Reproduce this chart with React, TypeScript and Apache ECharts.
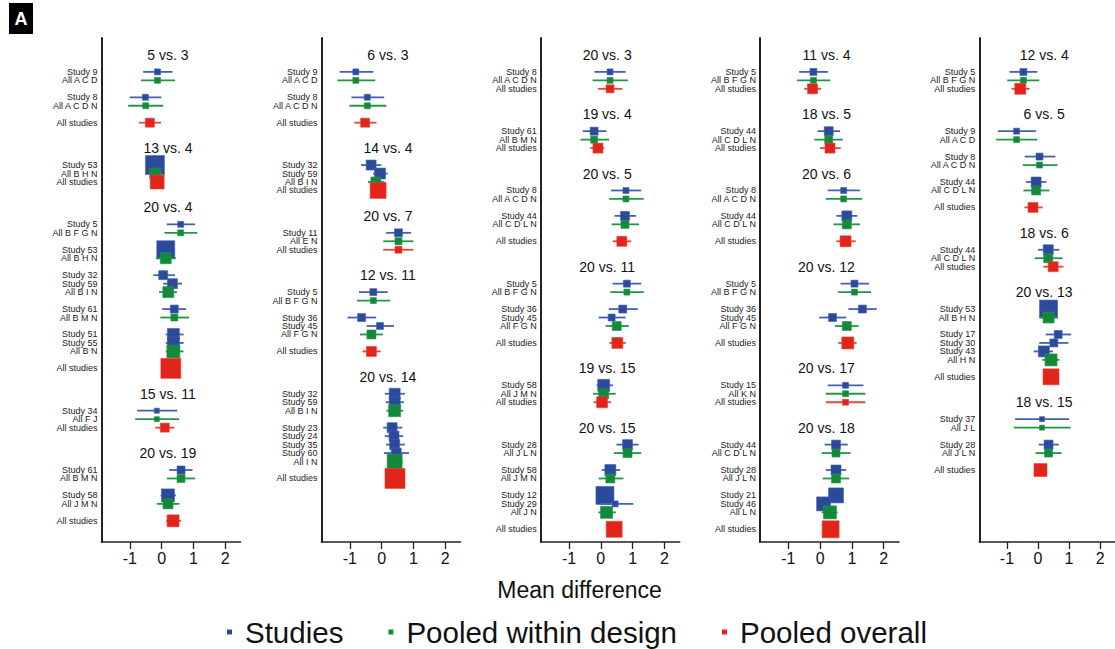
import { useEffect, useRef } from 'react';
import * as echarts from 'echarts';

type Row = [string, number, number, number, number]; // label, estimate, lower, upper, square size
type Comparison = { title: string; rows: Row[] };

const panel1: Comparison[] = [
  { title: '5 vs. 3', rows: [
    ['Study 9', -0.13, -0.58, 0.34, 6], ['All A C D', -0.13, -0.65, 0.42, 6],
    ['Study 8', -0.51, -1.0, -0.01, 6], ['All A C D N', -0.5, -1.05, 0.05, 6],
    ['All studies', -0.37, -0.71, -0.02, 9]] },
  { title: '13 vs. 4', rows: [
    ['Study 53', -0.21, -0.4, 0.0, 19], ['All B H N', -0.2, -0.4, 0.0, 11],
    ['All studies', -0.14, -0.35, 0.05, 14]] },
  { title: '20 vs. 4', rows: [
    ['Study 5', 0.6, 0.16, 1.05, 6], ['All B F G N', 0.6, 0.09, 1.12, 6],
    ['Study 53', 0.13, -0.05, 0.3, 18], ['All B H N', 0.13, -0.18, 0.45, 11],
    ['Study 32', 0.05, -0.26, 0.42, 9], ['Study 59', 0.34, 0.05, 0.64, 10], ['All B I N', 0.21, -0.08, 0.48, 11],
    ['Study 61', 0.4, 0.02, 0.77, 8], ['All B M N', 0.4, -0.04, 0.86, 7],
    ['Study 51', 0.37, 0.13, 0.69, 12], ['Study 55', 0.37, 0.13, 0.69, 12], ['All B N', 0.37, 0.13, 0.69, 13],
    ['All studies', 0.29, 0.05, 0.5, 20]] },
  { title: '15 vs. 11', rows: [
    ['Study 34', -0.15, -0.77, 0.49, 5], ['All F J', -0.15, -0.83, 0.55, 5],
    ['All studies', 0.1, -0.2, 0.4, 9]] },
  { title: '20 vs. 19', rows: [
    ['Study 61', 0.61, 0.24, 0.97, 8], ['All B M N', 0.61, 0.17, 1.05, 8],
    ['Study 58', 0.2, -0.03, 0.45, 13], ['All J M N', 0.2, -0.15, 0.56, 10],
    ['All studies', 0.36, 0.14, 0.61, 12]] },
];

const panel2: Comparison[] = [
  { title: '6 vs. 3', rows: [
    ['Study 9', -0.81, -1.32, -0.26, 6], ['All A C D', -0.81, -1.39, -0.2, 6],
    ['Study 8', -0.45, -0.95, 0.08, 6], ['All A C D N', -0.45, -1.01, 0.15, 6],
    ['All studies', -0.52, -0.86, -0.16, 9]] },
  { title: '14 vs. 4', rows: [
    ['Study 32', -0.33, -0.65, -0.01, 10], ['Study 59', -0.05, -0.27, 0.19, 11],
    ['All B I N', -0.18, -0.43, 0.09, 10], ['All studies', -0.11, -0.3, 0.1, 16]] },
  { title: '20 vs. 7', rows: [
    ['Study 11', 0.53, 0.14, 0.93, 8], ['All E N', 0.53, 0.05, 1.0, 7],
    ['All studies', 0.53, 0.05, 1.0, 7]] },
  { title: '12 vs. 11', rows: [
    ['Study 5', -0.26, -0.71, 0.19, 7], ['All B F G N', -0.26, -0.77, 0.27, 6],
    ['Study 36', -0.63, -1.07, -0.17, 8], ['Study 45', -0.05, -0.47, 0.39, 7], ['All F G N', -0.32, -0.68, 0.04, 9],
    ['All studies', -0.32, -0.6, -0.03, 10]] },
  { title: '20 vs. 14', rows: [
    ['Study 32', 0.41, 0.1, 0.73, 11], ['Study 59', 0.41, 0.13, 0.7, 11], ['All B I N', 0.41, 0.15, 0.68, 12],
    ['Study 23', 0.33, 0.05, 0.65, 10], ['Study 24', 0.39, 0.1, 0.68, 10], ['Study 35', 0.41, 0.14, 0.73, 10],
    ['Study 60', 0.46, 0.07, 0.86, 10], ['All I N', 0.41, 0.17, 0.66, 15],
    ['All studies', 0.42, 0.2, 0.64, 20]] },
];

const panel3: Comparison[] = [
  { title: '20 vs. 3', rows: [
    ['Study 8', 0.29, -0.2, 0.78, 6], ['All A C D N', 0.29, -0.26, 0.86, 6],
    ['All studies', 0.29, -0.09, 0.68, 8]] },
  { title: '19 vs. 4', rows: [
    ['Study 61', -0.21, -0.57, 0.18, 8], ['All B M N', -0.21, -0.64, 0.26, 7],
    ['All studies', -0.09, -0.33, 0.11, 10]] },
  { title: '20 vs. 5', rows: [
    ['Study 8', 0.79, 0.32, 1.27, 6], ['All A C D N', 0.79, 0.26, 1.35, 6],
    ['Study 44', 0.76, 0.43, 1.11, 9], ['All C D L N', 0.76, 0.34, 1.2, 8],
    ['All studies', 0.66, 0.37, 0.96, 10]] },
  { title: '20 vs. 11', rows: [
    ['Study 5', 0.82, 0.37, 1.27, 7], ['All B F G N', 0.82, 0.3, 1.35, 6],
    ['Study 36', 0.69, 0.25, 1.16, 8], ['Study 45', 0.34, -0.07, 0.78, 7], ['All F G N', 0.5, 0.15, 0.88, 9],
    ['All studies', 0.52, 0.27, 0.78, 11]] },
  { title: '19 vs. 15', rows: [
    ['Study 58', 0.09, -0.13, 0.38, 12], ['All J M N', 0.09, -0.25, 0.47, 10],
    ['All studies', 0.04, -0.23, 0.32, 11]] },
  { title: '20 vs. 15', rows: [
    ['Study 28', 0.84, 0.49, 1.19, 10], ['All J L N', 0.84, 0.41, 1.27, 9],
    ['Study 58', 0.3, 0.03, 0.61, 11], ['All J M N', 0.3, -0.07, 0.71, 9],
    ['Study 12', 0.13, -0.05, 0.3, 18], ['Study 29', 0.45, -0.02, 1.02, 6], ['All J N', 0.18, -0.08, 0.47, 12],
    ['All studies', 0.42, 0.2, 0.62, 16]] },
];

const panel4: Comparison[] = [
  { title: '11 vs. 4', rows: [
    ['Study 5', -0.21, -0.66, 0.25, 7], ['All B F G N', -0.21, -0.73, 0.32, 6],
    ['All studies', -0.24, -0.5, 0.03, 10]] },
  { title: '18 vs. 5', rows: [
    ['Study 44', 0.27, -0.08, 0.63, 9], ['All C D L N', 0.27, -0.18, 0.71, 8],
    ['All studies', 0.31, 0.0, 0.65, 10]] },
  { title: '20 vs. 6', rows: [
    ['Study 8', 0.74, 0.24, 1.25, 6], ['All A C D N', 0.74, 0.18, 1.32, 6],
    ['Study 44', 0.84, 0.51, 1.17, 10], ['All C D L N', 0.84, 0.42, 1.25, 9],
    ['All studies', 0.8, 0.51, 1.12, 11]] },
  { title: '20 vs. 12', rows: [
    ['Study 5', 1.08, 0.64, 1.54, 7], ['All B F G N', 1.08, 0.57, 1.6, 6],
    ['Study 36', 1.33, 0.89, 1.78, 8], ['Study 45', 0.39, -0.03, 0.82, 8], ['All F G N', 0.84, 0.47, 1.21, 9],
    ['All studies', 0.87, 0.57, 1.15, 12]] },
  { title: '20 vs. 17', rows: [
    ['Study 15', 0.8, 0.24, 1.36, 6], ['All K N', 0.8, 0.18, 1.42, 6],
    ['All studies', 0.8, 0.18, 1.42, 6]] },
  { title: '20 vs. 18', rows: [
    ['Study 44', 0.5, 0.14, 0.87, 9], ['All C D L N', 0.5, 0.05, 0.96, 8],
    ['Study 28', 0.5, 0.18, 0.82, 10], ['All J L N', 0.5, 0.08, 0.91, 9],
    ['Study 21', 0.5, 0.3, 0.7, 15], ['Study 46', 0.11, -0.08, 0.3, 14], ['All L N', 0.31, 0.05, 0.55, 13],
    ['All studies', 0.33, 0.12, 0.55, 17]] },
];

const panel5: Comparison[] = [
  { title: '12 vs. 4', rows: [
    ['Study 5', -0.47, -0.92, -0.02, 7], ['All B F G N', -0.47, -0.99, 0.04, 6],
    ['All studies', -0.57, -0.85, -0.27, 11]] },
  { title: '6 vs. 5', rows: [
    ['Study 9', -0.69, -1.29, -0.07, 6], ['All A C D', -0.69, -1.35, -0.02, 6],
    ['Study 8', 0.05, -0.43, 0.56, 7], ['All A C D N', 0.05, -0.49, 0.63, 6],
    ['Study 44', -0.06, -0.39, 0.27, 10], ['All C D L N', -0.06, -0.47, 0.37, 9],
    ['All studies', -0.16, -0.44, 0.15, 10]] },
  { title: '18 vs. 6', rows: [
    ['Study 44', 0.33, 0.0, 0.69, 10], ['All C D L N', 0.33, -0.11, 0.79, 9],
    ['All studies', 0.49, 0.17, 0.82, 10]] },
  { title: '20 vs. 13', rows: [
    ['Study 53', 0.34, 0.15, 0.52, 18], ['All B H N', 0.34, 0.06, 0.63, 11],
    ['Study 17', 0.65, 0.25, 1.07, 8], ['Study 30', 0.51, 0.04, 0.98, 8], ['Study 43', 0.19, -0.14, 0.48, 11],
    ['All H N', 0.42, 0.14, 0.69, 12], ['All studies', 0.42, 0.2, 0.64, 16]] },
  { title: '18 vs. 15', rows: [
    ['Study 37', 0.13, -0.74, 1.0, 5], ['All J L', 0.13, -0.78, 1.05, 5],
    ['Study 28', 0.34, 0.02, 0.67, 9], ['All J L N', 0.34, -0.08, 0.76, 8],
    ['All studies', 0.08, -0.12, 0.3, 13]] },
];

const panels = [panel1, panel2, panel3, panel4, panel5];
const xTicks = [-1, 0, 1, 2];
const legendNames = ['Studies', 'Pooled within design', 'Pooled overall'];

const X_MIN = -1.89;
const X_MAX = 2.48;
const Y_MIN = -4;
const Y_MAX = 55.5;
const GRID_LEFT = [101.5, 321.5, 540.7, 760, 979.3];
const FONT = "'Liberation Sans', Arial, sans-serif";

const isOverall = (l: string) => l === 'All studies';
const isDesign = (l: string) => l.startsWith('All') && !isOverall(l);
const isStudy = (l: string) => l.startsWith('Study');

const kinds = [
  { name: legendNames[0], color: '#2b4a9c', line: '#4361b2', test: isStudy },
  { name: legendNames[1], color: '#14893b', line: '#229547', test: isDesign },
  { name: legendNames[2], color: '#e1251b', line: '#e8453a', test: isOverall },
];

type Placed = { label: string; est: number; lo: number; hi: number; size: number; row: number };

function layout(panel: Comparison[]) {
  const titles: { text: string; row: number }[] = [];
  const rows: Placed[] = [];
  let r = -2;
  let lastOverall = -5;
  panel.forEach((comp, ci) => {
    if (ci > 0) r = lastOverall + 3;
    titles.push({ text: comp.title, row: r });
    r += 2;
    const nDesign = comp.rows.filter((x) => isDesign(x[0])).length;
    comp.rows.forEach((x) => {
      rows.push({ label: x[0], est: x[1], lo: x[2], hi: x[3], size: x[4], row: r });
      if (isOverall(x[0])) lastOverall = r;
      r += isDesign(x[0]) && nDesign > 1 ? 2 : 1;
    });
  });
  return { titles, rows };
}

export default function App() {
  const ref = useRef<HTMLDivElement>(null);
  useEffect(() => {
    if (!ref.current) return;
    const chart = echarts.init(ref.current, undefined, { renderer: 'svg' });
    const grid: any[] = [];
    const xAxis: any[] = [];
    const yAxis: any[] = [];
    const series: any[] = [];
    panels.forEach((panel, i) => {
      const { titles, rows } = layout(panel);
      grid.push({ left: GRID_LEFT[i], top: 38, width: 139, height: 504 });
      xAxis.push({
        gridIndex: i, type: 'value', min: X_MIN, max: X_MAX,
        axisLine: { show: true, onZero: false, lineStyle: { color: '#222', width: 1.6 } },
        axisTick: { show: true, customValues: xTicks, length: 7, lineStyle: { color: '#222', width: 1.3 } },
        axisLabel: { customValues: xTicks, fontSize: 16, color: '#111', margin: 8, fontFamily: FONT },
        splitLine: { show: false },
      });
      yAxis.push({
        gridIndex: i, type: 'value', min: Y_MIN, max: Y_MAX, inverse: true,
        axisLine: { show: true, onZero: false, lineStyle: { color: '#222', width: 2 } },
        axisTick: { show: false }, axisLabel: { show: false }, splitLine: { show: false },
      });
      kinds.forEach((k) => {
        series.push({
          type: 'custom', name: k.name, xAxisIndex: i, yAxisIndex: i, silent: true,
          itemStyle: { color: k.color },
          dimensions: ['est', 'row', 'lo', 'hi', 'size'],
          encode: { x: 0, y: 1 },
          data: rows.filter((r) => k.test(r.label)).map((r) => [r.est, r.row, r.lo, r.hi, r.size]),
          renderItem: (_p: any, api: any) => {
            const row = api.value(1);
            const size = api.value(4);
            const c = api.coord([api.value(0), row]);
            const a = api.coord([api.value(2), row]);
            const b = api.coord([api.value(3), row]);
            return {
              type: 'group',
              children: [
                { type: 'line', shape: { x1: a[0], y1: a[1], x2: b[0], y2: b[1] }, style: { stroke: k.line, lineWidth: 1.8 } },
                { type: 'rect', shape: { x: c[0] - size / 2, y: c[1] - size / 2, width: size, height: size }, style: { fill: k.color, stroke: k.line, lineWidth: 0.6 } },
              ],
            };
          },
        });
      });
      series.push({
        type: 'custom', name: 'labels', xAxisIndex: i, yAxisIndex: i, silent: true,
        data: rows.map((r) => [X_MIN, r.row]),
        renderItem: (p: any, api: any) => {
          const pt = api.coord([X_MIN, api.value(1)]);
          return {
            type: 'text', x: pt[0] - 4, y: pt[1],
            style: { text: rows[p.dataIndex].label, align: 'right', verticalAlign: 'middle', fontSize: 9, fontFamily: FONT, fill: '#222' },
          };
        },
      });
      series.push({
        type: 'custom', name: 'titles', xAxisIndex: i, yAxisIndex: i, silent: true,
        data: titles.map((t) => [0.2, t.row]),
        renderItem: (p: any, api: any) => {
          const pt = api.coord([api.value(0), api.value(1)]);
          return {
            type: 'text', x: pt[0], y: pt[1],
            style: { text: titles[p.dataIndex].text, align: 'center', verticalAlign: 'middle', fontSize: 14, fontFamily: FONT, fill: '#111' },
          };
        },
      });
    });
    chart.setOption({
      animation: false,
      backgroundColor: '#fff',
      grid, xAxis, yAxis, series,
      legend: {
        data: legendNames.map((n) => ({ name: n, icon: 'rect' })),
        left: 222, top: 612, padding: 5, itemWidth: 5, itemHeight: 5, itemGap: 45,
        selectedMode: false,
        textStyle: { fontSize: 29.5, lineHeight: 30, color: '#111', fontFamily: FONT, padding: [0, 0, 0, 8] },
      },
      graphic: [
        { type: 'rect', left: 9, top: 3, shape: { width: 24, height: 31 }, style: { fill: '#000' } },
        { type: 'text', x: 21, y: 19, style: { text: 'A', fill: '#fff', fontSize: 18, fontWeight: 'bold', fontFamily: FONT, align: 'center', verticalAlign: 'middle' } },
        { type: 'text', x: 579.5, y: 590, style: { text: 'Mean difference', fill: '#111', fontSize: 23, fontFamily: FONT, align: 'center', verticalAlign: 'middle' } },
      ],
    });
    return () => chart.dispose();
  }, []);
  return <div ref={ref} style={{ position: 'absolute', left: 0, top: 0, width: 1115, height: 649 }} />;
}
